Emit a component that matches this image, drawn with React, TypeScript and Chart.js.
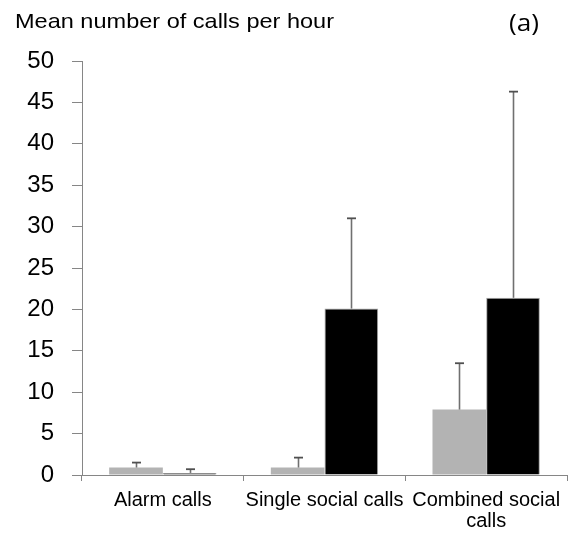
import React, { useEffect, useRef } from "react";
import { Chart, registerables } from "chart.js";

Chart.register(...registerables);

const categories: (string | string[])[] = ["Alarm calls", "Single social calls", ["Combined social", "calls"]];
const seriesGrey = [0.9, 0.9, 7.9];
const seriesGreyErrTop = [1.5, 2.1, 13.5];
const seriesBlack = [0.25, 20.1, 21.4];
const seriesBlackErrTop = [0.7, 31.0, 46.3];
const yMin = 0;
const yMax = 50;
const yStep = 5;
const yAxisTitle = "Mean number of calls per hour";
const panelLabel = "(a)";

const errTops = [seriesGreyErrTop, seriesBlackErrTop];

const extrasPlugin = {
  id: "extras",
  afterDatasetsDraw(chart: any) {
    const ctx = chart.ctx;
    const yScale = chart.scales.y;
    ctx.save();
    errTops.forEach((tops, di) => {
      const meta = chart.getDatasetMeta(di);
      meta.data.forEach((bar: any, i: number) => {
        const x = Math.round(bar.x) + 0.5;
        const yTop = yScale.getPixelForValue(tops[i]);
        const yBar = bar.y;
        ctx.strokeStyle = "#707070";
        ctx.lineWidth = 1.6;
        ctx.beginPath();
        ctx.moveTo(x, yBar);
        ctx.lineTo(x, yTop);
        ctx.stroke();
        ctx.strokeStyle = "#505050";
        ctx.lineWidth = 1.8;
        ctx.beginPath();
        ctx.moveTo(x - 4.5, yTop);
        ctx.lineTo(x + 4.5, yTop);
        ctx.stroke();
      });
    });
    ctx.restore();
  },
  afterDraw(chart: any) {
    const ctx = chart.ctx;
    ctx.save();
    ctx.fillStyle = "#000";
    ctx.textBaseline = "alphabetic";
    ctx.font = "21px 'Liberation Sans', Arial, sans-serif";
    const w = ctx.measureText(yAxisTitle).width;
    ctx.translate(15, 27.5);
    ctx.scale(319 / w, 1);
    ctx.fillText(yAxisTitle, 0, 0);
    ctx.restore();
    ctx.save();
    ctx.fillStyle = "#000";
    ctx.font = "24px 'Open Sans', sans-serif";
    ctx.textBaseline = "alphabetic";
    const w2 = ctx.measureText(panelLabel).width;
    ctx.translate(509, 31);
    ctx.scale(30 / w2, 1);
    ctx.fillText(panelLabel, 0, 0);
    ctx.restore();
  },
};

export default function App() {
  const ref = useRef<HTMLCanvasElement | null>(null);
  useEffect(() => {
    if (!ref.current) return;
    const axisColor = "#868686";
    const chart = new Chart(ref.current, {
      type: "bar",
      data: {
        labels: categories as any,
        datasets: [
          {
            data: seriesGrey,
            backgroundColor: "#b3b3b3",
            borderWidth: 0,
            categoryPercentage: 0.664,
            barPercentage: 1.0,
          },
          {
            data: seriesBlack,
            backgroundColor: "#000000",
            borderColor: "#a6a6a6",
            borderWidth: 1,
            categoryPercentage: 0.664,
            barPercentage: 1.0,
          },
        ],
      },
      options: {
        responsive: false,
        animation: false,
        layout: { padding: { top: 61, right: 1, left: 0, bottom: 0 } },
        plugins: {
          legend: { display: false },
          tooltip: { enabled: false },
          title: { display: false },
        },
        scales: {
          x: {
            type: "category",
            grid: {
              display: true,
              drawOnChartArea: false,
              offset: true,
              color: axisColor,
              tickLength: 6,
            },
            border: { display: true, color: axisColor, width: 1 },
            ticks: {
              color: "#000",
              font: { family: "'Liberation Sans', Arial, sans-serif", size: 20, lineHeight: 1.05 },
              padding: 9,
              maxRotation: 0,
              minRotation: 0,
              autoSkip: false,
            },
            afterFit: (scale: any) => {
              scale.height = 63;
              scale.paddingLeft = 0;
              scale.paddingRight = 0;
            },
          },
          y: {
            min: yMin,
            max: yMax,
            grid: {
              display: true,
              drawOnChartArea: false,
              color: axisColor,
              tickLength: 10,
            },
            border: { display: true, color: axisColor, width: 1 },
            ticks: {
              stepSize: yStep,
              color: "#000",
              font: { family: "'Liberation Sans', Arial, sans-serif", size: 24 },
              padding: 18,
            },
            afterFit: (scale: any) => {
              scale.width = 82;
            },
          },
        },
      },
      plugins: [extrasPlugin],
    });
    return () => chart.destroy();
  }, []);
  return (
    <div style={{ position: "fixed", left: 0, top: 0, width: 568, height: 538, background: "#fff" }}>
      <canvas ref={ref} width={568} height={538} style={{ display: "block" }} />
    </div>
  );
}
